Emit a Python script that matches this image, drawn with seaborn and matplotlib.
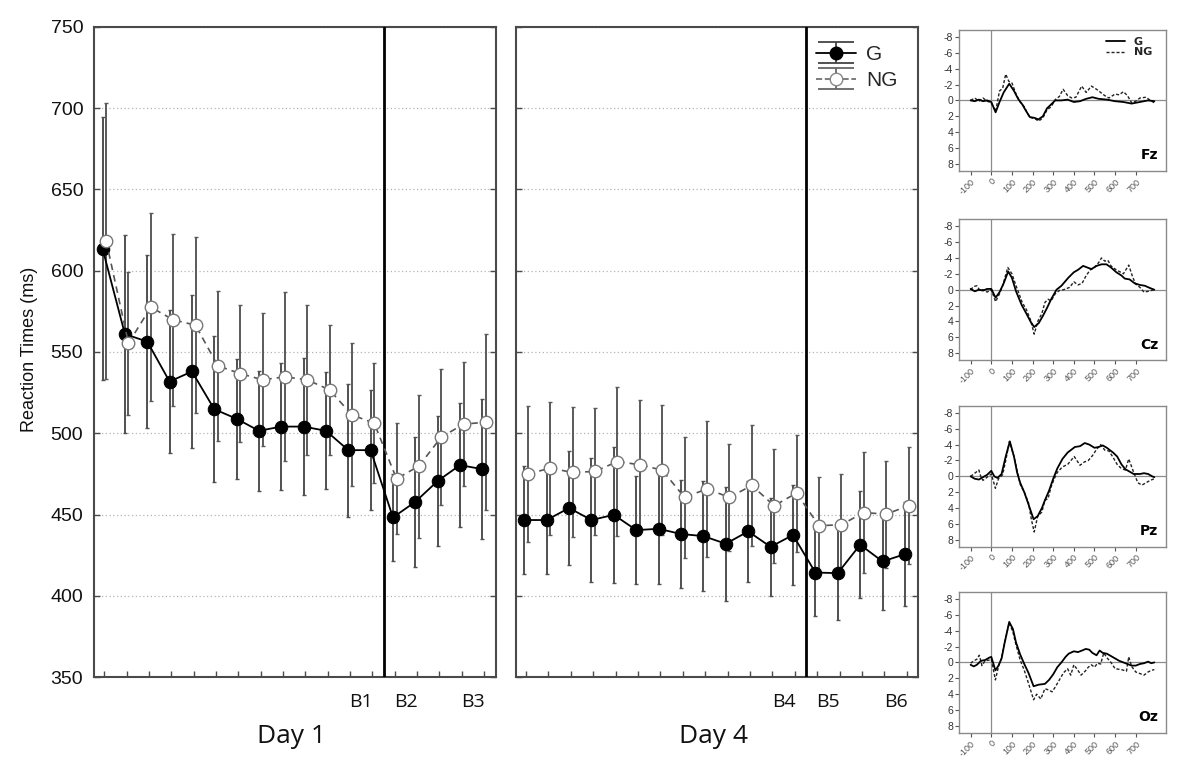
import numpy as np
import pandas as pd
import matplotlib
matplotlib.use("Agg")
import matplotlib.pyplot as plt
import seaborn as sns

sns.set_theme(style="white")
plt.rcParams['font.family'] = ['Liberation Sans', 'DejaVu Sans']
plt.rcParams['axes.unicode_minus'] = False

# ---------------- data ----------------
positions = list(range(18))
day_titles = ["Day 1", "Day 4"]
block_labels_d1 = ["B1", "B2", "B3"]
block_labels_d4 = ["B4", "B5", "B6"]
block_label_pos = [11.5, 13.5, 16.5]
session_split = 12.5

d1_g = [613.5, 561, 556.4, 531.8, 538, 514.8, 508.9, 501.5, 504.1, 504.1, 501.5, 489.6, 489.6,
        448.2, 457.8, 470.6, 480.4, 477.9]
d1_ng = [618.4, 555.4, 577.6, 569.8, 566.5, 541.5, 536.7, 532.9, 534.7, 532.9, 526.7, 511.3, 506.2,
         472, 479.8, 497.6, 505.6, 506.8]
d1_g_err = [81, 61, 53, 44, 47, 45, 37, 37, 39, 42, 36, 41, 37, 27, 40, 40, 38, 43]
d1_ng_err = [85, 44, 58, 53, 54, 46, 42, 41, 52, 46, 40, 44, 37, 34, 44, 42, 38, 54]

d4_g = [446.6, 446.6, 454, 446.6, 449.8, 440.4, 441.2, 438, 436.7, 432, 439.6, 430.1, 437.4,
        414.3, 413.9, 431.4, 421.1, 425.6]
d4_ng = [475, 478.5, 475.9, 476.5, 482.6, 480.6, 477.3, 460.5, 465.8, 460.5, 467.9, 455.4, 463.2,
         443.1, 443.7, 451.2, 450.2, 455.4]
d4_g_err = [33, 33, 35, 38, 42, 33, 34, 33, 34, 35, 31, 30, 31, 27, 29, 33, 30, 32]
d4_ng_err = [42, 41, 40, 39, 46, 40, 40, 37, 42, 33, 37, 35, 36, 30, 31, 37, 33, 36]

# ERP waveforms (time in ms, amplitude in microvolts)
fz_g_t = [-100, -80, -60, -40, -20, 0, 21, 40, 60, 87, 110, 130, 150, 170, 187, 210, 228, 250, 270,
          290, 310, 340, 370, 400, 430, 460, 490, 520, 560, 600, 640, 680, 720, 760, 790]
fz_g_v = [0, 0.1, -0.1, 0.1, 0, 0.2, 1.5, 0.2, -1.0, -2.1, -1.2, -0.2, 0.5, 1.4, 2.1, 2.2, 2.4, 2.0, 1.0,
          0.5, 0, 0, -0.1, 0.2, 0.1, -0.2, -0.4, -0.2, -0.1, 0.1, 0.2, 0.4, 0.2, 0, 0.1]
fz_ng_t = [-100, -80, -60, -40, -20, 0, 21, 40, 55, 70, 85, 100, 120, 140, 160, 185, 210, 230, 250, 270,
           290, 310, 330, 348, 370, 390, 410, 438, 460, 485, 510, 530, 550, 570, 600, 620, 640, 660, 680,
           700, 720, 750, 770, 790]
fz_ng_v = [0, -0.3, 0.1, -0.3, 0.1, 0.3, 1.4, -1.2, -1.5, -3.3, -2.4, -2.2, -0.8, 0.2, 0.8, 2.1, 2.3, 2.6,
           2.2, 1.2, 0.8, -0.1, -0.5, -1.4, -0.6, -0.3, -0.4, -1.8, -1.0, -1.8, -1.4, -1.0, -0.6, -0.3,
           -0.8, -0.7, -1.1, -0.6, 0.3, 0.1, -0.3, -0.4, 0, 0.3]

cz_g_t = [-100, -80, -60, -40, -20, 0, 21, 40, 60, 82, 100, 120, 147, 170, 190, 208, 230, 250, 270, 290,
          316, 340, 373, 400, 420, 445, 465, 485, 510, 534, 558, 580, 606, 630, 647, 670, 695, 720, 744,
          770, 790]
cz_g_v = [-0.1, 0.2, 0, 0.1, -0.1, -0.1, 1.0, 0.3, -0.8, -2.3, -1.5, 0.2, 1.9, 3.0, 4.0, 4.7, 4.2, 3.3,
          2.3, 1.2, 0, -0.5, -1.5, -2.2, -2.5, -3.0, -2.8, -2.6, -3.0, -3.2, -3.2, -2.8, -2.2, -1.8, -1.4,
          -1.3, -0.8, -0.6, -0.5, -0.2, 0]
cz_ng_t = [-100, -85, -70, -55, -40, -20, 0, 21, 40, 55, 80, 100, 120, 150, 170, 190, 208, 225, 245, 260,
           275, 290, 310, 330, 350, 380, 400, 420, 440, 460, 480, 500, 520, 534, 550, 565, 580, 600, 620,
           640, 666, 685, 700, 720, 740, 760, 790]
cz_ng_v = [0, -0.4, -0.5, 0.1, 0, 0.3, 0, 1.5, 0.5, -0.5, -2.8, -2.0, -0.5, 1.6, 2.5, 3.8, 5.6, 4.0, 3.0,
           1.6, 1.2, 1.4, 0.5, 0.1, 0, -0.3, -1.0, -0.6, -0.8, -1.8, -2.5, -2.8, -3.4, -4.0, -3.6, -3.7,
           -3.0, -2.6, -2.3, -2.0, -3.1, -1.6, -0.7, -0.3, 0.3, 0.2, 0]

pz_g_t = [-100, -80, -60, -40, -20, 0, 15, 30, 50, 70, 90, 110, 125, 140, 160, 180, 205, 225, 245, 260,
          280, 300, 320, 345, 370, 405, 430, 453, 475, 500, 520, 540, 560, 590, 610, 631, 650, 670, 690,
          720, 740, 760, 780, 790]
pz_g_v = [0, 0.3, 0.4, 0.1, -0.2, -0.7, 0, 0.2, -0.3, -2.5, -4.4, -2.5, -0.5, 0.8, 2.0, 3.5, 5.4, 5.0,
          4.0, 3.0, 1.8, 0.3, -1.0, -2.2, -3.0, -3.7, -3.8, -4.2, -4.0, -3.6, -3.7, -3.9, -3.6, -3.0,
          -2.5, -1.5, -0.9, -0.6, -0.3, -0.3, -0.4, -0.3, 0, 0.1]
pz_ng_t = [-100, -80, -60, -50, -40, -20, 0, 20, 35, 55, 70, 88, 110, 125, 140, 160, 180, 195, 208, 225,
           245, 260, 275, 290, 305, 320, 345, 370, 402, 430, 450, 470, 490, 510, 530, 550, 570, 590, 610,
           630, 650, 666, 690, 710, 730, 750, 770, 790]
pz_ng_v = [0, -0.4, -0.8, 0.1, 0.5, 0.1, -0.3, 1.5, 0.3, -0.2, -2.0, -4.4, -2.5, -0.8, 1.0, 2.0, 3.3, 5.5,
           7.0, 5.0, 4.5, 3.0, 2.8, 1.3, 0.3, -0.5, -1.2, -1.5, -2.5, -1.4, -1.8, -2.0, -2.6, -3.4, -4.0,
           -3.3, -3.2, -2.4, -1.5, -1.0, -0.8, -2.2, -0.5, 0.8, 1.1, 0.8, 0.5, 0.3]

oz_g_t = [-100, -85, -70, -50, -30, -10, 0, 20, 35, 50, 65, 87, 105, 120, 140, 160, 180, 205, 230, 260,
          280, 300, 320, 340, 360, 375, 400, 420, 440, 458, 475, 490, 510, 525, 540, 560, 580, 600, 620,
          640, 660, 680, 700, 720, 740, 760, 775, 790]
oz_g_v = [0.3, 0.5, 0.3, -0.2, -0.3, -0.6, -0.7, 1.0, 0.4, -0.5, -2.5, -5.1, -4.2, -2.5, -1.0, 0.2, 1.3,
          3.0, 2.8, 2.7, 2.2, 1.5, 0.6, 0, -0.7, -1.1, -1.4, -1.3, -1.5, -1.7, -1.6, -1.2, -0.9, -1.5,
          -1.2, -1.1, -0.8, -0.5, -0.2, 0, 0.2, 0.4, 0.4, 0.2, 0.1, -0.1, 0.1, 0]
oz_ng_t = [-100, -85, -70, -58, -45, -30, -10, 0, 20, 35, 50, 65, 87, 105, 120, 140, 160, 180, 205, 220,
           240, 260, 280, 295, 310, 330, 350, 370, 385, 400, 420, 435, 455, 470, 485, 500, 515, 530, 545,
           560, 580, 600, 630, 655, 666, 680, 700, 720, 740, 760, 775, 790]
oz_ng_v = [0.1, -0.2, -0.4, -0.9, 0.4, -0.2, -0.3, -0.4, 2.2, 0.5, -0.6, -2.5, -5.0, -3.8, -2.2, -0.3,
           1.0, 2.6, 4.7, 4.0, 4.6, 3.3, 3.5, 3.7, 3.1, 2.2, 1.3, 0.8, 1.6, 0.3, 1.0, 1.6, 1.1, 0.6, 0.3,
           0.6, 0.1, 0.2, -1.2, -0.6, 0, 0.8, 0.9, 1.1, -0.7, 0.5, 1.2, 1.4, 1.6, 1.2, 1.0, 0.9]

electrodes = ["Fz", "Cz", "Pz", "Oz"]
erp_g = [(fz_g_t, fz_g_v), (cz_g_t, cz_g_v), (pz_g_t, pz_g_v), (oz_g_t, oz_g_v)]
erp_ng = [(fz_ng_t, fz_ng_v), (cz_ng_t, cz_ng_v), (pz_ng_t, pz_ng_v), (oz_ng_t, oz_ng_v)]
erp_xticks = list(range(-100, 701, 100))
erp_yticks = list(range(-8, 9, 2))
rt_yticks = list(range(350, 751, 50))

# ---------------- figure ----------------
fig = plt.figure(figsize=(12, 7.6), dpi=100)
ax1 = fig.add_axes([0.0786, 0.1092, 0.3345, 0.8553])
ax2 = fig.add_axes([0.4300, 0.1092, 0.3353, 0.8553])

dodge = 0.08
SPINE = '#4a4a4a'


def draw_panel(ax, g, g_err, ng, ng_err, blabels, title, show_y):
    x = np.array(positions, dtype=float)
    xg, xn = x - dodge, x + dodge
    ax.errorbar(xg, g, yerr=g_err, fmt='none', ecolor='#505050', elinewidth=1.4,
                capsize=1.5, capthick=1.0, zorder=2)
    ax.errorbar(xn, ng, yerr=ng_err, fmt='none', ecolor='#5a5a5a', elinewidth=1.4,
                capsize=1.5, capthick=1.0, zorder=2)
    df_g = pd.DataFrame({'pos': xg, 'rt': g})
    df_n = pd.DataFrame({'pos': xn, 'rt': ng})
    sns.lineplot(data=df_g, x='pos', y='rt', ax=ax, color='black', lw=1.3, marker='o',
                 markersize=9, mfc='black', mec='black', errorbar=None, zorder=4)
    sns.lineplot(data=df_n, x='pos', y='rt', ax=ax, color='#555555', lw=1.2,
                 linestyle=(0, (4, 3)), marker='o', markersize=9, mfc='white', mec='#777777',
                 mew=1.0, errorbar=None, zorder=5)
    ax.axvline(session_split, color='black', lw=2, zorder=3)
    ax.set_xlim(-0.45, 17.52)
    ax.set_ylim(350, 750)
    ax.set_yticks(rt_yticks)
    ax.yaxis.grid(True, linestyle=(0, (1, 2)), color='#b5b5b5', lw=0.9)
    ax.xaxis.grid(False)
    ax.set_axisbelow(True)
    ax.set_xticks(positions)
    ax.set_xticklabels([])
    ax.tick_params(axis='x', direction='in', length=4, width=1, bottom=True, top=False, color=SPINE)
    ax.tick_params(axis='y', direction='in', length=4, width=1, left=True, right=True,
                   color=SPINE, labelsize=14, pad=8, labelcolor='#111111')
    if not show_y:
        ax.set_yticklabels([])
    ax.set_xlabel('')
    ax.set_ylabel('')
    for s in ax.spines.values():
        s.set_color(SPINE)
        s.set_linewidth(1.5)
    trans = ax.get_xaxis_transform()
    for lab, p in zip(blabels, block_label_pos):
        ax.text(p, -0.038, lab, transform=trans, ha='center', va='center', fontsize=14,
                family=['Open Sans', 'DejaVu Sans'], color='#111111')
    ax.text(0.49, -0.092, title, transform=ax.transAxes, ha='center', va='center', fontsize=19,
            family=['Open Sans', 'DejaVu Sans'], color='#111111')


draw_panel(ax1, d1_g, d1_g_err, d1_ng, d1_ng_err, block_labels_d1, day_titles[0], True)
draw_panel(ax2, d4_g, d4_g_err, d4_ng, d4_ng_err, block_labels_d4, day_titles[1], False)

fig.text(0.025, 0.54, 'Reaction Times (ms)', rotation=90, ha='center', va='center',
         fontsize=13, color='#111111')

# legend proxies
hg = ax2.errorbar([np.nan], [np.nan], yerr=[1], fmt='-o', color='black', ecolor='#444444',
                  elinewidth=1.3, capsize=13, capthick=1.3, ms=9, mfc='black', mec='black',
                  lw=1.3, label='G')
hn = ax2.errorbar([np.nan], [np.nan], yerr=[1], fmt='--o', color='#666666', ecolor='#666666',
                  elinewidth=1.3, capsize=13, capthick=1.3, ms=9, mfc='white', mec='#888888',
                  lw=1.2, label='NG')
ax2.legend(handles=[hg, hn], loc='upper right', frameon=False, fontsize=15,
           handlelength=1.9, handletextpad=0.5, labelspacing=0.35,
           borderaxespad=0.3, bbox_to_anchor=(0.985, 0.995))

# ERP panels
erp_bottoms = [0.7754, 0.5263, 0.2807, 0.0359]
ERP_SPINE = '#8a8a8a'
for i, name in enumerate(electrodes):
    ax = fig.add_axes([0.7994, erp_bottoms[i], 0.172, 0.1855])
    ax.axhline(0, color='#8c8c8c', lw=0.9, zorder=1)
    ax.axvline(0, color='#8c8c8c', lw=0.9, zorder=1)
    tg, vg = erp_g[i]
    tn, vn = erp_ng[i]
    sns.lineplot(x=tg, y=vg, ax=ax, color='black', lw=1.3, errorbar=None, label='G' if i == 0 else None,
                 zorder=3)
    sns.lineplot(x=tn, y=vn, ax=ax, color='#222222', lw=1.0, linestyle=(0, (2.2, 1.4)),
                 errorbar=None, label='NG' if i == 0 else None, zorder=2)
    ax.set_xlim(-155, 845)
    ax.set_ylim(8.85, -8.9)
    ax.set_xticks(erp_xticks)
    ax.set_yticks(erp_yticks)
    ax.set_xlabel('')
    ax.set_ylabel('')
    ax.tick_params(axis='both', direction='out', length=3, width=0.8, color='#555555',
                   left=True, bottom=True, labelsize=7.5, pad=1.5, labelcolor='#333333')
    ax.tick_params(axis='x', labelsize=6.5, labelcolor='#555555')
    for lbl in ax.get_xticklabels():
        lbl.set_rotation(45)
        lbl.set_ha('right')
        lbl.set_rotation_mode('anchor')
    for s in ax.spines.values():
        s.set_color(ERP_SPINE)
        s.set_linewidth(1.0)
    ax.text(0.965, 0.06, name, transform=ax.transAxes, ha='right', va='bottom',
            fontsize=10, fontweight='bold', family='DejaVu Sans', color='black')
    if i == 0:
        ax.legend(loc='upper right', frameon=False, prop={'size': 8, 'weight': 'bold',
                                                          'family': 'DejaVu Sans'},
                  handlelength=1.7, handletextpad=0.8, labelspacing=0.05,
                  borderaxespad=0.25, bbox_to_anchor=(0.97, 1.0))
    else:
        lg = ax.get_legend()
        if lg is not None:
            lg.remove()

fig.savefig('out.png', dpi=100)
